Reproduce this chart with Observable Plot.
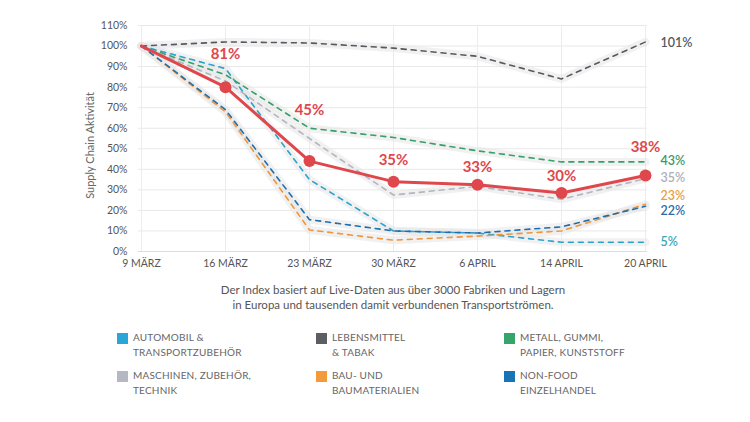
<!DOCTYPE html>
<html>
<head>
<meta charset="utf-8">
<script src="https://cdn.jsdelivr.net/npm/d3@7"></script>
<script src="https://cdn.jsdelivr.net/npm/@observablehq/plot@0.6"></script>
<style>
  html, body { margin: 0; padding: 0; background: #fff; width: 750px; height: 422px; overflow: hidden; font-family: Lato, "Open Sans", sans-serif; }
  #chart svg { display: block; }
  .caption { text-align: center; color: #555; font-size: 11.5px; line-height: 14.5px; margin-top: 8px; padding-left: 36px; }
  .legend { position: absolute; top: 330px; left: 0; width: 750px; }
  .item { position: absolute; display: flex; align-items: flex-start; }
  .sw { width: 11px; height: 11px; margin-top: 3px; margin-right: 5px; flex: none; }
  .lt { font-size: 10px; line-height: 14.5px; color: #666; letter-spacing: 0.2px; white-space: nowrap; }
</style>
</head>
<body>
<div id="chart"></div>
<div class="caption">Der Index basiert auf Live-Daten aus über 3000 Fabriken und Lagern<br>in Europa und tausenden damit verbundenen Transportströmen.</div>
<div class="legend" id="legend"></div>
<script>
// ---- data ----
const dates = ["9 MÄRZ", "16 MÄRZ", "23 MÄRZ", "30 MÄRZ", "6 APRIL", "14 APRIL", "20 APRIL"];
const yTicks = [0, 10, 20, 30, 40, 50, 60, 70, 80, 90, 100, 110];
const automobil    = [100, 89, 35, 10, 9, 4.5, 4.5];
const lebensmittel = [100, 102, 101.5, 99, 95, 84, 102];
const metall       = [100, 86, 60, 55.5, 49, 43.6, 43.6];
const maschinen    = [100, 83, 55, 27.5, 31.7, 25.4, 35.5];
const bau          = [100, 68, 10.5, 5.5, 7.5, 10, 23];
const nonfood      = [100, 69, 15.5, 10, 9, 12, 22];
const indexValues  = [100, 80, 44, 34, 32.5, 28.5, 37];
const indexLabels  = ["", "81%", "45%", "35%", "33%", "30%", "38%"];
const seriesNames  = ["AUTOMOBIL & TRANSPORTZUBEHÖR", "LEBENSMITTEL & TABAK", "METALL, GUMMI, PAPIER, KUNSTSTOFF",
                      "MASCHINEN, ZUBEHÖR, TECHNIK", "BAU- UND BAUMATERIALIEN", "NON-FOOD EINZELHANDEL"];
const legendLines  = [["AUTOMOBIL &", "TRANSPORTZUBEHÖR"], ["LEBENSMITTEL", "& TABAK"], ["METALL, GUMMI,", "PAPIER, KUNSTSTOFF"],
                      ["MASCHINEN, ZUBEHÖR,", "TECHNIK"], ["BAU- UND", "BAUMATERIALIEN"], ["NON-FOOD", "EINZELHANDEL"]];
const endLabels    = ["5%", "101%", "43%", "35%", "23%", "22%"];
const yTitle = "Supply Chain Aktivität";

// ---- styles ----
const lineColors  = ["#2aa3cf", "#555a60", "#36a06b", "#b3b6be", "#f0973b", "#1f6fae"];
const labelColors = ["#3aa6b8", "#555a60", "#3a9a6a", "#aeb0b6", "#eba040", "#2a6ea8"];
const swatchColors = ["#2aa6d6", "#5b5e63", "#35a56a", "#b5b8c2", "#f39a3c", "#1a73b5"];
const endDy = [0, 1, -1, -1, -8, 5];
const idxDy = [0, -33, -51, -21, -18, -17, -28];
const red = "#e0474c";

const seriesValues = [automobil, lebensmittel, metall, maschinen, bau, nonfood];
const tables = seriesValues.map((vals, s) => vals.map((v, i) => ({date: dates[i], value: v, series: seriesNames[s]})));
const indexTable = indexValues.map((v, i) => ({date: dates[i], value: v, label: indexLabels[i]}));

const marks = [
  Plot.gridY(yTicks, {stroke: "#e8e8e8", strokeOpacity: 1}),
  Plot.gridX(dates, {stroke: "#ececec", strokeOpacity: 1}),
  Plot.ruleY([0], {stroke: "#dcdcdc", dx: -8, x1: dates[0], x2: dates[dates.length - 1]}),
  Plot.ruleY([0], {stroke: "#dcdcdc"}),
  ...tables.map(t => Plot.line(t, {x: "date", y: "value", stroke: "#e6e6e6", strokeOpacity: 0.55, strokeWidth: 8})),
  ...tables.map((t, s) => Plot.line(t, {x: "date", y: "value", stroke: lineColors[s], strokeWidth: 1.6, strokeDasharray: "5,5"})),
  Plot.line(indexTable, {x: "date", y: "value", stroke: red, strokeWidth: 3}),
  Plot.dot(indexTable.slice(1), {x: "date", y: "value", r: 6, fill: red}),
  Plot.dot(indexTable.slice(0, 1), {x: "date", y: "value", r: 1.5, fill: red}),
  ...indexTable.map((d, i) => d.label ? Plot.text([d], {x: "date", y: "value", text: "label", dy: idxDy[i], fill: red, fontSize: 15, fontWeight: "bold"}) : null).filter(Boolean),
  ...tables.map((t, s) => Plot.text([t[t.length - 1]], {x: "date", y: "value", text: () => endLabels[s], textAnchor: "start", dx: 15, dy: endDy[s], fill: labelColors[s], fontSize: 12.5, fontWeight: 600})),
  Plot.text([yTitle], {frameAnchor: "left", textAnchor: "middle", rotate: -90, dx: -48, dy: 7, fill: "#666", fontSize: 11})
];

const chart = Plot.plot({
  width: 750,
  height: 275,
  marginLeft: 138,
  marginRight: 103,
  marginTop: 25,
  marginBottom: 24,
  style: {fontFamily: "Lato, sans-serif", fontSize: "10.5px", color: "#555", background: "transparent"},
  x: {type: "point", domain: dates, padding: 0, label: null, tickSize: 0, tickPadding: 8},
  y: {domain: [0, 110], ticks: yTicks, tickFormat: d => d + "%", label: null, tickSize: 0, tickPadding: 11},
  marks
});
document.getElementById("chart").appendChild(chart);

// legend
const legend = document.getElementById("legend");
const colX = [117, 316, 504];
legendLines.forEach((lines, i) => {
  const div = document.createElement("div");
  div.className = "item";
  div.style.left = colX[i % 3] + "px";
  div.style.top = (i < 3 ? 0 : 38) + "px";
  const sw = document.createElement("div");
  sw.className = "sw";
  sw.style.background = swatchColors[i];
  const lt = document.createElement("div");
  lt.className = "lt";
  lt.innerHTML = lines.join("<br>");
  div.appendChild(sw);
  div.appendChild(lt);
  legend.appendChild(div);
});
</script>
</body>
</html>
